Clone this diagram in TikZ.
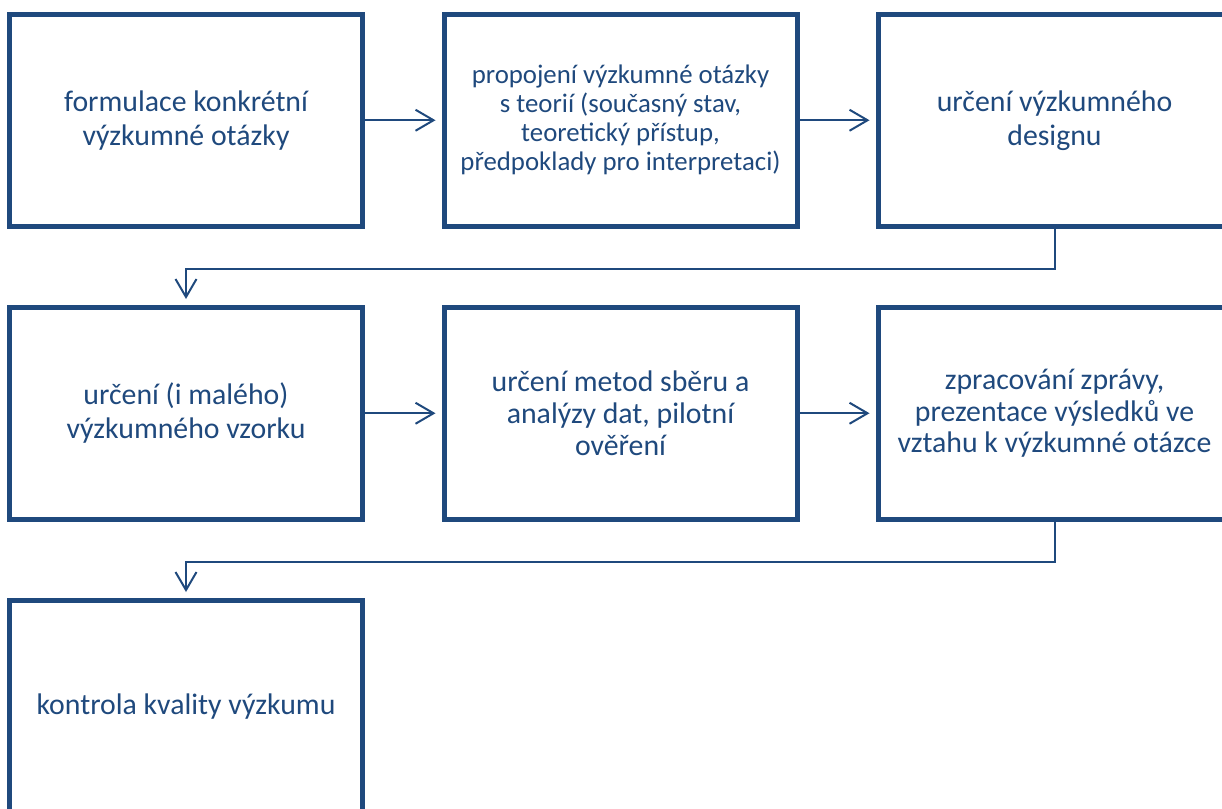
\documentclass[tikz,border=0pt]{standalone}
\usepackage{fontspec}
\setmainfont{Carlito}
\usepackage{tikz}
\usetikzlibrary{arrows.meta}
\definecolor{boxblue}{RGB}{31,73,125}

\begin{document}
\begin{tikzpicture}[x=1pt,y=-1pt,
	krok/.style={draw=boxblue, line width=5pt, minimum width=353pt, minimum height=211.5pt, inner sep=0pt, align=center, text=boxblue, font=\fontsize{29.8}{34}\selectfont},
	sipka/.style={draw=boxblue, line width=2pt, -{Straight Barb[length=18pt,width=21pt,line width=2pt]}, shorten >=6pt}]
			\useasboundingbox (0,0) rectangle (1222,808);
			\node [krok] (formulace) at (186,120.25) {formulace konkrétní\\výzkumné otázky};
			\node [krok, font=\fontsize{26.8}{29}\selectfont] (teorie) at (620.5,120.25) {propojení výzkumné otázky\\s teorií (současný stav,\\teoretický přístup,\\předpoklady pro interpretaci)};
			\node [krok] (design) at (1054.5,120.25) {určení výzkumného\\designu};
			\node [krok] (vzorek) at (186,413.25) {určení (i malého)\\výzkumného vzorku};
			\node [krok, font=\fontsize{29.8}{31.5}\selectfont] (metody) at (620.5,413.25) {určení metod sběru a\\analýzy dat, pilotní\\ověření};
			\node [krok, font=\fontsize{29.8}{31.5}\selectfont] (zprava) at (1054.5,413.25) {zpracování zprávy,\\prezentace výsledků ve\\vztahu k výzkumné otázce};
			\node [krok] (kontrola) at (186,706.25) {kontrola kvality výzkumu};
			\draw [sipka] (formulace) -- (teorie);
			\draw [sipka] (teorie) -- (design);
			\draw [sipka] (design.south) -- ++(0,40.5) -| (vzorek.north);
			\draw [sipka] (vzorek) -- (metody);
			\draw [sipka] (metody) -- (zprava);
			\draw [sipka] (zprava.south) -- ++(0,40.5) -| (kontrola.north);
			\end{tikzpicture}
\end{document}
